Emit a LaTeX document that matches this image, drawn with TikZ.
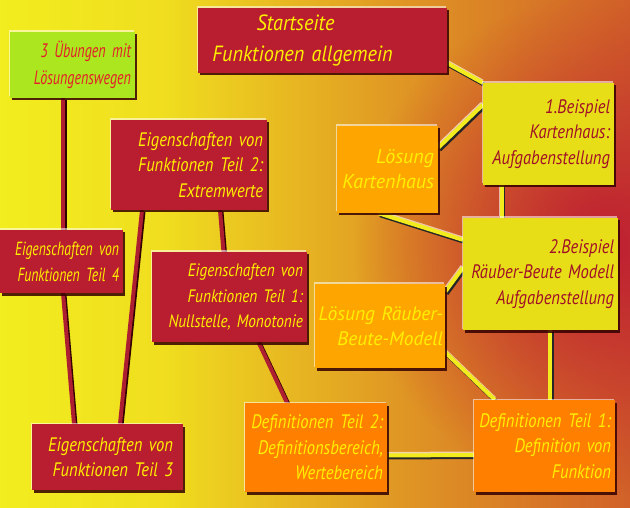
\documentclass[tikz,border=0pt]{standalone}
\usepackage{fontspec}
\setmainfont{PT Sans}[FakeStretch=0.85]
\newfontfamily\narrowfont{PT Sans}[FakeStretch=0.72]
\newfontfamily\widefont{PT Sans}[FakeStretch=0.92]
\newfontfamily\plainfont{PT Sans}
\usetikzlibrary{shadows,fadings,calc}
\definecolor{boxred}{RGB}{185,30,48}
\definecolor{boxgreen}{RGB}{172,230,30}
\definecolor{boxyellow}{RGB}{232,222,24}
\definecolor{boxorange}{RGB}{255,128,0}
\definecolor{boxlightorange}{RGB}{255,165,0}
\definecolor{txtyellow}{RGB}{255,240,0}
\definecolor{txtred}{RGB}{228,30,40}
\definecolor{txtdarkred}{RGB}{160,15,40}
\definecolor{lineyellow}{RGB}{242,236,30}
\definecolor{linered}{RGB}{172,30,48}
\definecolor{bgred}{RGB}{190,30,50}
\pgfdeclarehorizontalshading{bgshade}{100bp}{rgb(0bp)=(0.95,0.93,0.12); rgb(25bp)=(0.95,0.93,0.12); rgb(38bp)=(0.94,0.87,0.12); rgb(56bp)=(0.88,0.60,0.14); rgb(75bp)=(0.82,0.38,0.16); rgb(100bp)=(0.82,0.38,0.16)}
\tikzfading[name=redglow, inner color=transparent!0, outer color=transparent!100]
\pgfdeclarelayer{bg}
\pgfdeclarelayer{lines}
\pgfsetlayers{bg,lines,main}

\begin{document}
\begin{tikzpicture}[
		x=1pt, y=-1pt,
		tile/.style={
				inner xsep=4pt,
				align=right,
				font=\fontsize{19.5}{25.5}\selectfont\itshape,
				general shadow={shadow xshift=-1.5pt, shadow yshift=1.5pt, fill=white, opacity=.55},
				drop shadow={shadow xshift=2pt, shadow yshift=-2.5pt, fill=black!80!red, opacity=.85}
			},
		redbox/.style={tile, fill=boxred, text=txtyellow},
		greenbox/.style={tile, fill=boxgreen, text=txtred,
				font=\narrowfont\fontsize{19.5}{27}\selectfont\itshape},
		yellowbox/.style={tile, fill=boxyellow, text=txtdarkred},
		orangebox/.style={tile, fill=boxorange, text=txtyellow},
		lightorangebox/.style={tile, fill=boxlightorange, text=txtyellow,
				font=\plainfont\fontsize{19.5}{25}\selectfont\itshape},
		yline/.style={
				draw=lineyellow, line width=4pt,
				preaction={draw=white, opacity=.6, line width=4pt, transform canvas={shift={(-0.5pt,1.5pt)}}},
				preaction={draw=black!85, line width=4pt, transform canvas={shift={(1.5pt,-2pt)}}}
			},
		rline/.style={
				draw=linered, line width=4pt,
				preaction={draw=black!80!red, line width=4pt, transform canvas={shift={(1.5pt,-1.5pt)}}}
			}
	]
	\useasboundingbox (0,0) rectangle (630,508);

	% background
	\begin{pgfonlayer}{bg}
		\shade[shading=bgshade] (0,0) rectangle (630,508);
		\fill[bgred, path fading=redglow] (605,245) circle (250pt);
	\end{pgfonlayer}

	% boxes
	\node[redbox, text width=241pt, minimum height=65pt, align=center,
		font=\widefont\fontsize{22}{31}\selectfont\itshape] (start) at (322.5,40.5) {Startseite\hspace*{54pt}\mbox{}\\Funktionen allgemein\hspace*{40pt}\mbox{}};
	\node[greenbox, text width=117pt, minimum height=66pt] (ueb) at (72.5,65) {3 Übungen mit\\Lösungenswegen};
	\node[redbox, text width=148pt, minimum height=90pt] (teil2) at (189,165) {Eigenschaften von\\Funktionen Teil 2:\\Extremwerte};
	\node[redbox, text width=115pt, minimum height=63pt,
		font=\narrowfont\fontsize{19}{26}\selectfont\itshape] (teil4) at (61.5,261.5) {Eigenschaften von\\Funktionen Teil 4};
	\node[redbox, text width=147pt, minimum height=90pt,
		font=\fontsize{18}{25.5}\selectfont\itshape] (teil1) at (229.5,297) {Eigenschaften von\\Funktionen Teil 1:\\Nullstelle, Monotonie};
	\node[redbox, text width=131pt, inner xsep=10pt, minimum height=66pt] (teil3) at (107.5,457) {Eigenschaften von\\Funktionen Teil 3};
	\node[orangebox, text width=134pt, minimum height=89pt] (def2) at (316,447.5) {Definitionen Teil 2:\\Definitionsbereich,\\Wertebereich};
	\node[orangebox, text width=133pt, minimum height=92pt] (def1) at (544.5,446) {Definitionen Teil 1:\\Definition von\\Funktion};
	\node[lightorangebox, text width=126pt, inner xsep=2pt, minimum height=84pt] (lrb) at (380,326) {Lösung Räuber-\\Beute-Modell};
	\node[yellowbox, text width=147pt, minimum height=112pt] (bsp2) at (540.5,274) {2.Beispiel\\Räuber-Beute Modell\\Aufgabenstellung};
	\node[yellowbox, text width=123pt, minimum height=102pt] (bsp1) at (548.5,134) {1.Beispiel\\Kartenhaus:\\Aufgabenstellung};
	\node[lightorangebox, text width=93pt, minimum height=87pt,
		font=\plainfont\fontsize{20}{25}\selectfont\itshape] (lkh) at (387.5,169.5) {Lösung\\Kartenhaus};

	% connectors
	\begin{pgfonlayer}{lines}
		\draw[yline] ([yshift=10pt]start.south east) -- (bsp1.north west);
		\draw[yline] ([yshift=-22pt]bsp1.north west) -- ([yshift=-22pt]lkh.north east);
		\draw[yline] ([xshift=-9pt]lkh.south) -- ([yshift=-22pt]bsp2.north west);
		\draw[yline] ([xshift=19pt]bsp1.south west) -- ([xshift=39pt]bsp2.north west);
		\draw[yline] ([yshift=-8pt]lrb.north east) -- ([yshift=-50pt]bsp2.north west);
		\draw[yline] ([yshift=16pt]lrb.south east) -- ([xshift=21pt]def1.north west);
		\draw[yline] ([xshift=9.5pt]bsp2.south) -- ([xshift=5.5pt]def1.north);
		\draw[yline] ([yshift=-8pt]def2.east) -- ([yshift=-9pt]def1.west);

		\draw[rline] ([xshift=29pt]teil1.south) -- ([xshift=-29pt]def2.north);
		\draw[rline] ([xshift=31pt]teil2.south) -- ([xshift=-6pt]teil1.north);
		\draw[rline] ([xshift=-47pt]teil2.south) -- ([xshift=12.5pt]teil3.north);
		\draw[rline] ([xshift=-9.5pt]ueb.south) -- ([xshift=1.5pt]teil4.north);
		\draw[rline] ([xshift=1.5pt]teil4.south) -- ([xshift=-33.5pt]teil3.north);
	\end{pgfonlayer}
\end{tikzpicture}
\end{document}
